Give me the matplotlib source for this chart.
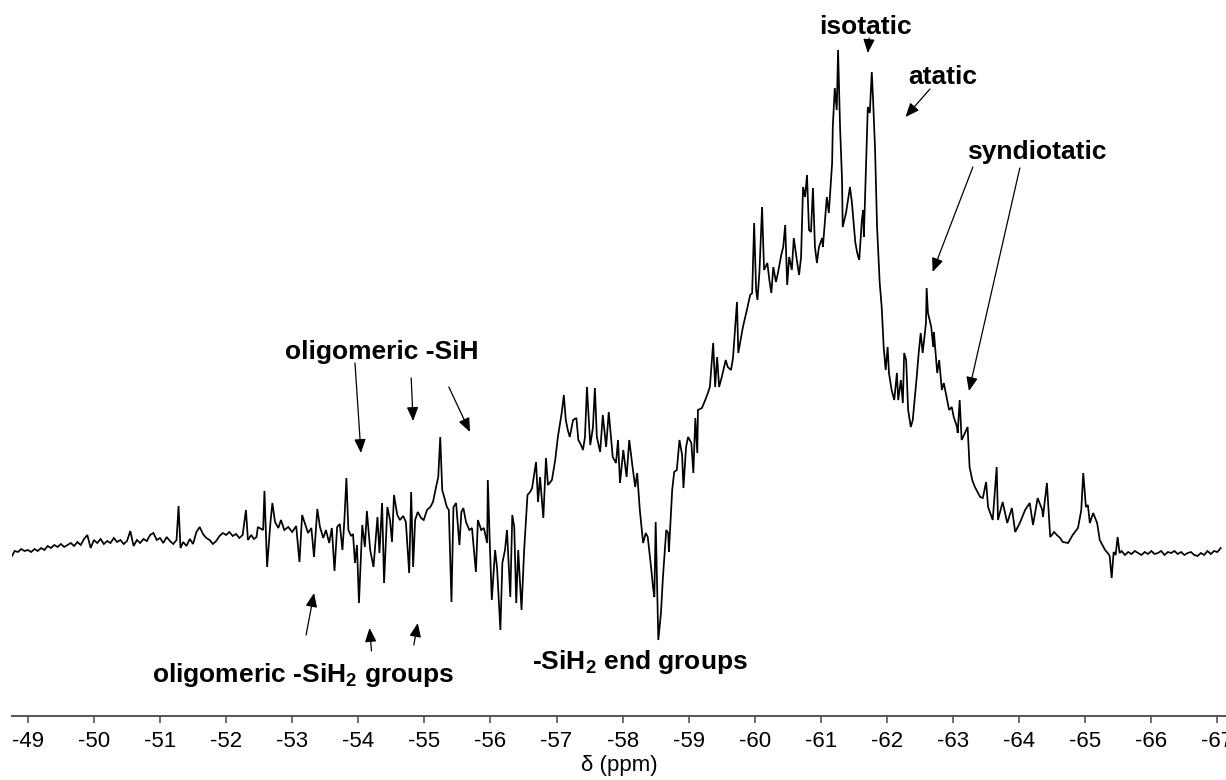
import matplotlib
matplotlib.use("Agg")
import matplotlib.pyplot as plt
import numpy as np

plt.rcParams["font.family"] = ["Liberation Sans", "DejaVu Sans"]
plt.rcParams["mathtext.fontset"] = "custom"
plt.rcParams["mathtext.rm"] = "Liberation Sans"
plt.rcParams["mathtext.bf"] = "Liberation Sans:bold"

# 29Si spectrum, read region by region (shift in ppm, intensity in a.u.)
baseline_ppm = [
    -48.76, -48.80, -48.85, -48.90, -48.95, -49.00, -49.05, -49.10, -49.15, -49.20,
    -49.25, -49.30, -49.35, -49.40, -49.45, -49.50, -49.55, -49.60, -49.65, -49.70,
    -49.75, -49.80, -49.85, -49.90, -49.95, -50.00, -50.05, -50.10, -50.15, -50.20,
    -50.25, -50.30, -50.35, -50.40, -50.45, -50.50, -50.55, -50.60, -50.65, -50.70,
    -50.75, -50.80, -50.85, -50.90, -50.95, -51.00, -51.05, -51.10, -51.15, -51.20,
    -51.25, -51.28, -51.31, -51.35, -51.40, -51.45, -51.50, -51.55, -51.60, -51.65,
    -51.70, -51.75, -51.80, -51.85, -51.90, -51.95, -52.00, -52.05, -52.10, -52.15,
    -52.20, -52.25, -52.30, -52.33, -52.38, -52.42, -52.46,
]
baseline_int = [
    -4, 1, 0, 3, 1, 2, 0, 3, 1, 4,
    2, 6, 4, 7, 5, 8, 5, 7, 9, 6,
    10, 7, 13, 17, 4, 12, 9, 13, 8, 11,
    9, 14, 10, 12, 8, 11, 21, 6, 12, 9,
    13, 11, 17, 19, 12, 14, 9, 15, 11, 8,
    12, 46, 4, 10, 6, 13, 8, 20, 25, 18,
    14, 12, 8, 11, 16, 19, 17, 20, 16, 18,
    14, 17, 42, 12, 17, 13, 15,
]

oligomer_ppm = [
    -52.48, -52.56, -52.58, -52.62, -52.67, -52.70, -52.74, -52.79, -52.83, -52.88,
    -52.94, -53.00, -53.06, -53.11, -53.15, -53.20, -53.24, -53.29, -53.33, -53.38,
    -53.42, -53.47, -53.51, -53.56, -53.60, -53.64, -53.68, -53.72, -53.76, -53.79,
    -53.82, -53.85, -53.89, -53.92, -53.95, -53.98, -54.01, -54.06, -54.10, -54.13,
    -54.18, -54.23, -54.29, -54.32, -54.36, -54.39, -54.44, -54.48, -54.51, -54.54,
    -54.59, -54.63, -54.68, -54.72, -54.77, -54.80, -54.83, -54.86, -54.90, -54.95,
    -54.99, -55.04, -55.09, -55.13, -55.18, -55.21, -55.24, -55.27, -55.30, -55.34,
    -55.37, -55.41, -55.44, -55.48, -55.53, -55.56, -55.59, -55.63, -55.68, -55.72,
    -55.75, -55.78, -55.81, -55.86, -55.90, -55.95, -55.96, -55.99, -56.02, -56.07,
    -56.10, -56.15, -56.18, -56.22, -56.25, -56.30, -56.33, -56.36, -56.39, -56.42,
    -56.47, -56.51,
]
oligomer_int = [
    25, 22, 61, -15, 29, 49, 30, 24, 32, 22,
    25, 20, 26, -10, 37, 27, 19, 24, -5, 43,
    25, 14, 22, 9, 24, -19, 25, 28, 2, 32,
    74, 22, 16, 18, -11, 7, -51, 27, 5, 41,
    2, -15, 35, -1, 49, -31, 45, 32, 10, 57,
    37, 32, 36, 30, -21, 60, -15, 32, 40, 34,
    32, 42, 45, 50, 66, 75, 115, 62, 55, 45,
    42, -50, 45, 49, 7, 40, 44, 30, 22, 24,
    2, -20, 32, 22, 24, 9, 72, 9, -48, 2,
    -16, -78, -11, 2, 22, -45, 37, 25, -51, 2,
    -58, 2,
]

endgroup_ppm = [
    -56.56, -56.60, -56.63, -56.69, -56.72, -56.75, -56.80, -56.84, -56.87, -56.93,
    -56.98, -57.02, -57.08, -57.11, -57.14, -57.17, -57.20, -57.25, -57.30, -57.33,
    -57.37, -57.40, -57.43, -57.46, -57.51, -57.55, -57.58, -57.61, -57.66, -57.70,
    -57.75, -57.79, -57.85, -57.90, -57.93, -57.96, -58.01, -58.06, -58.10, -58.15,
    -58.19, -58.22, -58.26, -58.31, -58.35, -58.38, -58.43, -58.46, -58.48, -58.50,
    -58.54, -58.58, -58.61, -58.66, -58.69, -58.70, -58.75, -58.78, -58.82, -58.86,
    -58.90, -58.92, -58.96, -58.99, -59.04, -59.07, -59.10, -59.13, -59.14,
]
endgroup_int = [
    57, 60, 64, 90, 50, 75, 34, 94, 67, 72,
    92, 115, 140, 157, 132, 122, 115, 132, 134, 112,
    107, 102, 115, 165, 107, 124, 164, 115, 100, 137,
    105, 140, 95, 89, 112, 69, 102, 75, 112, 85,
    65, 79, 42, 9, 19, 15, -15, -35, -45, 30,
    -88, -61, -25, 22, 19, 0, 62, 80, 82, 112,
    97, 64, 105, 115, 109, 79, 134, 99, 142,
]

chain_ppm = [
    -59.20, -59.25, -59.29, -59.32, -59.37, -59.40, -59.43, -59.46, -59.50, -59.56,
    -59.59, -59.64, -59.67, -59.70, -59.73, -59.75, -59.78, -59.82, -59.88, -59.93,
    -59.96, -59.99, -60.02, -60.04, -60.07, -60.11, -60.14, -60.19, -60.22, -60.25,
    -60.28, -60.32, -60.35, -60.40, -60.43, -60.46, -60.49, -60.52, -60.56, -60.59,
    -60.64, -60.67, -60.70, -60.73, -60.76, -60.79, -60.82, -60.85, -60.88, -60.91,
    -60.94, -60.97, -61.02, -61.03, -61.09, -61.12, -61.17, -61.18, -61.21, -61.24,
    -61.26, -61.29, -61.32, -61.33, -61.38, -61.41, -61.44, -61.47, -61.52, -61.55,
    -61.58, -61.62, -61.64, -61.65, -61.68, -61.71, -61.74, -61.77, -61.79, -61.82,
    -61.85, -61.89, -61.92, -61.95, -61.98, -62.01, -62.03, -62.07, -62.11, -62.15,
    -62.17, -62.21, -62.24, -62.26, -62.29, -62.32, -62.36, -62.39, -62.45, -62.48,
    -62.51, -62.54, -62.59, -62.60, -62.62, -62.67, -62.70, -62.71, -62.76, -62.79,
    -62.83, -62.86, -62.91, -62.94, -62.98, -63.01, -63.06, -63.07, -63.10, -63.13,
    -63.18, -63.22,
]
chain_int = [
    144, 152, 159, 165, 209, 165, 195, 165, 175, 192,
    185, 182, 194, 222, 250, 199, 210, 225, 242, 257,
    259, 329, 262, 252, 280, 345, 282, 289, 272, 259,
    285, 270, 279, 297, 305, 327, 267, 295, 282, 314,
    290, 277, 295, 365, 355, 377, 322, 320, 364, 305,
    289, 305, 314, 305, 355, 339, 389, 425, 464, 442,
    502, 425, 372, 325, 339, 352, 365, 349, 310, 299,
    292, 332, 342, 315, 379, 445, 439, 480, 452, 402,
    325, 269, 245, 205, 182, 205, 179, 162, 152, 179,
    152, 172, 149, 199, 192, 142, 125, 132, 175, 199,
    219, 199, 229, 264, 239, 225, 205, 220, 179, 192,
    162, 169, 152, 142, 145, 135, 125, 119, 152, 112,
    119, 125,
]

tail_ppm = [
    -63.25, -63.29, -63.33, -63.41, -63.45, -63.50, -63.53, -63.60, -63.66, -63.68,
    -63.75, -63.82, -63.89, -63.94, -64.01, -64.09, -64.16, -64.21, -64.28, -64.35,
    -64.36, -64.42, -64.47, -64.53, -64.57, -64.62, -64.66, -64.74, -64.81, -64.89,
    -64.94, -64.97, -65.01, -65.04, -65.07, -65.12, -65.18, -65.22, -65.30, -65.34,
    -65.37, -65.40, -65.43, -65.46, -65.49, -65.52, -65.55, -65.60, -65.65, -65.70,
    -65.75, -65.80, -65.85, -65.90, -65.95, -66.00, -66.05, -66.10, -66.15, -66.20,
    -66.25, -66.30, -66.35, -66.40, -66.45, -66.50, -66.55, -66.60, -66.65, -66.70,
    -66.75, -66.80, -66.85, -66.90, -66.95, -67.00, -67.05,
]
tail_int = [
    85, 72, 65, 55, 54, 70, 45, 32, 85, 32,
    50, 29, 44, 20, 29, 42, 49, 27, 54, 42,
    35, 69, 15, 20, 17, 14, 10, 9, 17, 24,
    42, 79, 45, 47, 29, 39, 29, 12, 2, -1,
    -4, -26, 0, -3, 15, -1, 1, -3, 0, -2,
    1, -1, -3, 0, -2, 1, -2, -1, 1, -3,
    0, -1, 1, -2, 0, -3, -1, 0, -3, -4,
    -1, -3, 1, -2, 1, 0, 4,
]

tick_values = list(range(-49, -68, -1))
tick_labels = [str(v) for v in tick_values]

shift = np.concatenate([baseline_ppm, oligomer_ppm, endgroup_ppm, chain_ppm, tail_ppm])
signal = np.concatenate([baseline_int, oligomer_int, endgroup_int, chain_int, tail_int])

fig = plt.figure(figsize=(12.26, 7.8), dpi=100)
ax = fig.add_axes([12 / 1226, 64 / 780, 1214 / 1226, 716 / 780])

ax.plot(shift, signal, color="black", lw=1.25, solid_joinstyle="miter")

ax.set_xlim(-48.76, -67.13)
ax.set_ylim(-164, 552)

for side in ("left", "top", "right"):
    ax.spines[side].set_visible(False)
ax.spines["bottom"].set_color("#555555")
ax.spines["bottom"].set_linewidth(1.4)
ax.set_yticks([])
ax.set_xticks(tick_values)
ax.set_xticklabels(tick_labels)
ax.tick_params(axis="x", direction="out", length=5, width=1.2, color="#555555",
               labelsize=16, pad=6)
ax.set_xlabel("δ (ppm)", fontsize=16, labelpad=2)

label_kw = dict(fontsize=19, fontweight="bold", ha="center", va="center")
arrow_kw = dict(arrowstyle="-|>,head_length=0.6,head_width=0.25", color="black",
                lw=0.9, mutation_scale=14, shrinkA=0, shrinkB=0)


def arrow(start, end):
    ax.annotate("", xy=end, xytext=start, arrowprops=arrow_kw)


ax.text(-61.68, 525, "isotatic", **label_kw)
arrow((-61.73, 514), (-61.71, 499))

ax.text(-62.85, 475, "atatic", **label_kw)
arrow((-62.65, 463), (-62.28, 435))

ax.text(-64.27, 400, "syndiotatic", **label_kw)
arrow((-63.30, 385), (-62.69, 280))
arrow((-64.01, 384), (-63.24, 161))

ax.text(-54.35, 200, "oligomeric -SiH", **label_kw)
arrow((-53.95, 189), (-54.04, 99))
arrow((-54.80, 174), (-54.83, 131))
arrow((-55.37, 165), (-55.69, 120))

ax.text(-53.17, -123, r"oligomeric -SiH$_\mathbf{2}$ groups", **label_kw)
arrow((-53.21, -83), (-53.33, -41))
arrow((-54.20, -99), (-54.17, -76))
arrow((-54.84, -93), (-54.90, -71))

ax.text(-58.26, -110, r"-SiH$_\mathbf{2}$ end groups", **label_kw)

fig.savefig("out.png", dpi=100)
